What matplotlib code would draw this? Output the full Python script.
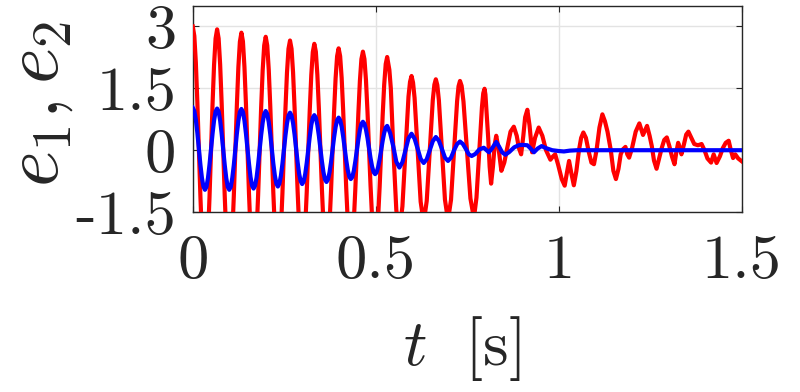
import matplotlib
matplotlib.use("Agg")
import matplotlib.pyplot as plt
import numpy as np

# ---- data ----
# regular part: sampled every 0.00415 s (16 samples per oscillation)
t_reg = np.arange(128) * 0.00415

e1_reg = [
    3.00, 2.77, 2.13, 1.16, 0.03, -1.11, -2.08, -2.72, -2.95, -2.73, -2.09, -1.14, -0.01, 1.12, 2.07, 2.71,
    2.93, 2.71, 2.08, 1.14, 0.03, -1.09, -2.03, -2.66, -2.88, -2.66, -2.04, -1.11, -0.02, 1.08, 2.01, 2.63,
    2.85, 2.64, 2.02, 1.11, 0.03, -1.06, -1.97, -2.59, -2.80, -2.59, -1.99, -1.09, -0.03, 1.04, 1.94, 2.54,
    2.75, 2.54, 1.95, 1.07, 0.03, -1.02, -1.90, -2.49, -2.70, -2.50, -1.92, -1.05, -0.02, 1.01, 1.88, 2.46,
    2.66, 2.46, 1.89, 1.03, 0.02, -0.99, -1.85, -2.42, -2.62, -2.42, -1.86, -1.02, -0.02, 0.98, 1.82, 2.38,
    2.58, 2.39, 1.83, 1.01, 0.03, -0.95, -1.77, -2.33, -2.52, -2.33, -1.79, -0.98, -0.03, 0.93, 1.74, 2.28,
    2.47, 2.28, 1.75, 0.96, 0.02, -0.92, -1.71, -2.24, -2.43, -2.25, -1.72, -0.94, -0.02, 0.90, 1.68, 2.21,
    2.39, 2.21, 1.70, 0.94, 0.05, -0.85, -1.61, -2.12, -2.30, -2.13, -1.63, -0.89, -0.02, 0.85, 1.59, 2.09,
]
e2_reg = [
    1.03, 0.95, 0.74, 0.42, 0.04, -0.35, -0.67, -0.88, -0.96, -0.89, -0.67, -0.35, 0.03, 0.40, 0.72, 0.94,
    1.01, 0.94, 0.72, 0.40, 0.03, -0.35, -0.67, -0.89, -0.96, -0.89, -0.67, -0.36, 0.02, 0.40, 0.71, 0.93,
    1.00, 0.93, 0.72, 0.40, 0.04, -0.33, -0.65, -0.86, -0.93, -0.86, -0.66, -0.35, 0.01, 0.37, 0.67, 0.88,
    0.95, 0.88, 0.68, 0.39, 0.04, -0.32, -0.61, -0.81, -0.88, -0.81, -0.62, -0.33, 0.02, 0.36, 0.65, 0.84,
    0.91, 0.84, 0.66, 0.38, 0.05, -0.29, -0.57, -0.75, -0.82, -0.76, -0.58, -0.31, 0.02, 0.33, 0.61, 0.79,
    0.85, 0.79, 0.61, 0.35, 0.04, -0.27, -0.53, -0.71, -0.77, -0.71, -0.54, -0.29, 0.01, 0.31, 0.56, 0.73,
    0.79, 0.73, 0.57, 0.33, 0.05, -0.24, -0.48, -0.64, -0.70, -0.65, -0.50, -0.27, 0.00, 0.26, 0.49, 0.64,
    0.69, 0.64, 0.50, 0.30, 0.06, -0.19, -0.39, -0.53, -0.58, -0.54, -0.41, -0.22, 0.01, 0.23, 0.42, 0.55,
]

# irregular tail, explicit time stamps
e1_tail_t = [
    0.531, 0.534, 0.537, 0.541, 0.548, 0.556, 0.5644, 0.5727, 0.581, 0.5893,
    0.5935, 0.5976, 0.6017, 0.6059, 0.6142, 0.6225, 0.6308, 0.6391, 0.6474, 0.6557,
    0.660, 0.664, 0.668, 0.6723, 0.6806, 0.6889, 0.6972, 0.7055, 0.7138, 0.7221,
    0.726, 0.730, 0.7345, 0.7395, 0.749, 0.7585, 0.768, 0.775, 0.7825, 0.790,
    0.7935, 0.797, 0.7995, 0.802, 0.807, 0.811, 0.815, 0.820, 0.825, 0.829,
    0.836, 0.843, 0.851, 0.860, 0.868, 0.877, 0.885, 0.891, 0.897, 0.903,
    0.908, 0.914, 0.920, 0.927, 0.935, 0.945, 0.955, 0.965, 0.977, 0.984,
    0.990, 0.998, 1.008, 1.016, 1.022, 1.028, 1.034, 1.041, 1.048, 1.055,
    1.061, 1.067, 1.074, 1.082, 1.089, 1.096, 1.103, 1.111, 1.119, 1.126,
    1.133, 1.142, 1.149, 1.156, 1.163, 1.169, 1.175, 1.182, 1.187, 1.192,
    1.200, 1.210, 1.220, 1.230, 1.241, 1.248, 1.254, 1.260, 1.267, 1.274,
    1.281, 1.288, 1.295, 1.302, 1.309, 1.316, 1.321, 1.326, 1.331, 1.335,
    1.342, 1.348, 1.354, 1.362, 1.370, 1.380, 1.390, 1.398, 1.406, 1.416,
    1.423, 1.431, 1.440, 1.448, 1.456, 1.464, 1.470, 1.476, 1.482, 1.490,
    1.500,
]
e1_tail = [
    2.26, 2.10, 1.95, 1.50, 0.00, -1.45, -2.00, -1.36, -0.05, 1.30,
    1.66, 1.80, 1.64, 1.27, 0.02, -1.25, -1.76, -1.23, -0.02, 1.22,
    1.59, 1.72, 1.58, 1.21, 0.01, -1.20, -1.70, -1.20, -0.01, 1.19,
    1.55, 1.68, 1.56, 1.18, 0.00, -1.17, -1.65, -1.15, -0.05, 1.05,
    1.38, 1.49, 1.35, 1.00, 0.30, -0.40, -0.81, -0.40, 0.15, 0.35,
    0.00, -0.50, -0.30, 0.10, 0.45, 0.57, 0.35, 0.05, -0.10, 0.35,
    0.80, 0.98, 0.60, -0.05, 0.30, 0.55, 0.35, 0.00, -0.23, -0.15,
    -0.10, -0.35, -0.70, -0.86, -0.55, -0.26, -0.55, -0.85, -0.50, 0.00,
    0.30, 0.43, 0.30, -0.05, -0.30, -0.34, 0.00, 0.55, 0.87, 0.70,
    0.45, 0.00, -0.50, -0.70, -0.45, -0.10, 0.02, 0.08, -0.10, -0.18,
    0.05, 0.45, 0.65, 0.37, 0.59, 0.35, 0.10, -0.25, -0.45, -0.20,
    0.05, 0.25, 0.31, 0.10, -0.15, -0.34, -0.05, 0.18, 0.05, -0.10,
    0.15, 0.38, 0.45, 0.30, 0.15, 0.12, 0.15, 0.00, -0.20, -0.30,
    -0.10, -0.31, -0.15, 0.05, 0.18, 0.23, 0.00, -0.19, -0.10, -0.20,
    -0.27,
]

e2_tail_t = [
    0.531, 0.539, 0.548, 0.556, 0.5644, 0.5727, 0.581, 0.5893, 0.5976, 0.6059,
    0.6142, 0.6225, 0.6308, 0.6391, 0.6474, 0.6557, 0.664, 0.6723, 0.6806, 0.6889,
    0.6972, 0.7055, 0.7138, 0.7221, 0.730, 0.738, 0.746, 0.754, 0.762, 0.772,
    0.783, 0.795, 0.809, 0.818, 0.829, 0.836, 0.845, 0.854, 0.865, 0.878,
    0.890, 0.900, 0.914, 0.923, 0.932, 0.942, 0.953, 0.965, 0.982, 1.000,
    1.014, 1.030, 1.050, 1.500,
]
e2_tail = [
    0.59, 0.42, 0.08, -0.28, -0.42, -0.29, 0.00, 0.29, 0.40, 0.28,
    0.04, -0.21, -0.31, -0.22, 0.00, 0.22, 0.32, 0.23, 0.03, -0.18,
    -0.26, -0.18, 0.00, 0.15, 0.21, 0.15, 0.03, -0.10, -0.14, -0.09,
    0.02, 0.06, -0.05, 0.05, 0.20, 0.10, -0.05, -0.11, -0.04, 0.07,
    0.12, 0.13, 0.12, 0.04, -0.05, 0.04, 0.10, 0.05, 0.00, -0.02,
    -0.03, -0.01, 0.00, 0.00,
]

x_ticks = [0, 0.5, 1, 1.5]
x_tick_labels = ["0", "0.5", "1", "1.5"]
y_ticks = [-1.5, 0, 1.5, 3]
y_tick_labels = ["-1.5", "0", "1.5", "3"]

# ---- style ----
plt.rcParams["mathtext.fontset"] = "cm"
AX_COLOR = "#262626"
GRID_COLOR = "#e3e3e3"
TICK_SIZE = 45

fig = plt.figure(figsize=(8, 3.92), dpi=100)
fig.patch.set_facecolor("white")
ax = fig.add_axes([0.241, 0.459, 0.6863, 0.526])

t1 = np.concatenate([t_reg, e1_tail_t])
t2 = np.concatenate([t_reg, e2_tail_t])
ax.plot(t1, np.concatenate([e1_reg, e1_tail]), color="#ff0000", lw=3.0,
        solid_joinstyle="round", zorder=3)
ax.plot(t2, np.concatenate([e2_reg, e2_tail]), color="#0000ff", lw=3.0,
        solid_joinstyle="round", zorder=4)

ax.set_xlim(0, 1.5)
ax.set_ylim(-1.5, 3.5)
ax.set_xticks(x_ticks)
ax.set_xticklabels(x_tick_labels, family="cmr10", fontsize=TICK_SIZE, color=AX_COLOR)
ax.set_yticks(y_ticks)
ax.set_yticklabels(y_tick_labels, family="cmr10", fontsize=TICK_SIZE, color=AX_COLOR)
ax.tick_params(direction="in", length=4, width=0.8, color=AX_COLOR,
               top=True, right=True)
ax.tick_params(axis="x", pad=16)
ax.tick_params(axis="y", pad=12)
ax.grid(True, color=GRID_COLOR, lw=1.0, zorder=0)
ax.set_axisbelow(True)
for sp in ax.spines.values():
    sp.set_color(AX_COLOR)
    sp.set_linewidth(1.0)

fig.text(0.578, 0.11, r"$t\ \ [\mathrm{s}]$", fontsize=47, color=AX_COLOR,
         ha="center", va="center")
fig.text(0.046, 0.735, r"$e_1, e_2$", fontsize=56, color=AX_COLOR,
         ha="center", va="center", rotation=90)

fig.savefig("out.png", dpi=100, facecolor="white")
